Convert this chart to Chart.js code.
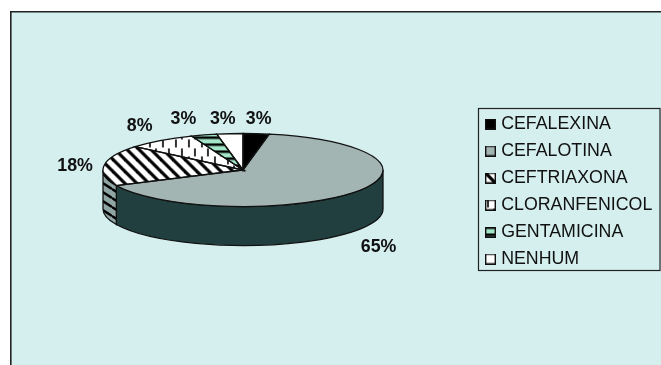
<!DOCTYPE html>
<html>
<head>
<meta charset="utf-8">
<title>Antibióticos</title>
<style>
  html, body { margin: 0; padding: 0; background: #ffffff; }
  canvas { display: block; }
</style>
<script src="https://cdn.jsdelivr.net/npm/chart.js@4"></script>
</head>
<body>
<canvas id="pieChart" width="661" height="365"></canvas>
<script>
"use strict";

// Chart data
const categories = ["CEFALEXINA", "CEFALOTINA", "CEFTRIAXONA", "CLORANFENICOL", "GENTAMICINA", "NENHUM"];
const percentValues = [3, 65, 18, 8, 3, 3];

// Where the pie sits on the page (top ellipse plus extrusion)
const pieX = 243;
const pieY = 170;
const pieRadius = 140;
const pieRadiusY = 36.5;
const pieDepth = 39;
const squash = pieRadiusY / pieRadius;

// Nudge of every percent label away from its slice edge
const labelNudgeX = [2.5, 25, -29, -21, -20.5, -7];
const labelNudgeY = [-14.5, 16, 0.5, -14, -15.5, -14.5];

// Build a repeating tile; paint() draws one tile
function makeTile(width, height, paint) {
  const tile = document.createElement("canvas");
  tile.width = width;
  tile.height = height;
  paint(tile.getContext("2d"), width, height);
  return tile;
}

function diagonalTile() {
  return makeTile(12, 12, (c) => {
    c.fillStyle = "#ffffff";
    c.fillRect(0, 0, 12, 12);
    c.strokeStyle = "#000000";
    c.lineWidth = 3.2;
    [-12, 0, 12].forEach((off) => {
      c.beginPath();
      c.moveTo(off - 2, -2);
      c.lineTo(off + 14, 14);
      c.stroke();
    });
  });
}

function dashTile() {
  return makeTile(13, 17, (c) => {
    c.fillStyle = "#ffffff";
    c.fillRect(0, 0, 13, 17);
    c.fillStyle = "#333333";
    c.fillRect(2, 0, 2, 8);
    c.fillRect(8, 9, 2, 8);
  });
}

function stripeTile(color, dark, height, thick) {
  return makeTile(4, height, (c) => {
    c.fillStyle = color;
    c.fillRect(0, 0, 4, height);
    c.fillStyle = dark;
    c.fillRect(0, 0, 4, thick);
  });
}

// Wall stripes run slightly downhill to the right
function slantedTile() {
  return makeTile(14, 9, (c) => {
    c.fillStyle = "#8fa5a3";
    c.fillRect(0, 0, 14, 9);
    c.strokeStyle = "#000000";
    c.lineWidth = 2.4;
    [-9, 0, 9].forEach((off) => {
      c.beginPath();
      c.moveTo(0, off);
      c.lineTo(14, off + 9);
      c.stroke();
    });
  });
}

const baseCtx = document.getElementById("pieChart").getContext("2d");

// Patterns are painted inside the squashed pie, so they get stretched back
function squashedPattern(tile) {
  const pattern = baseCtx.createPattern(tile, "repeat");
  pattern.setTransform(new DOMMatrix().scale(1, 1 / squash));
  return pattern;
}

const sliceTiles = [null, null, diagonalTile(), dashTile(), stripeTile("#a3e6c8", "#000000", 7, 2.5), null];
const sliceColors = ["#000000", "#a3b5b3", "#ffffff", "#ffffff", "#a3e6c8", "#ffffff"];
const sliceFills = sliceColors.map((color, i) => (sliceTiles[i] ? squashedPattern(sliceTiles[i]) : color));
const sideFills = [
  "#000000",
  "#223f3f",
  baseCtx.createPattern(slantedTile(), "repeat"),
  "#555555",
  "#222222",
  "#555555"
];

// Small legend swatches, same fill as the slices
const swatches = sliceColors.map((color, i) =>
  makeTile(11, 11, (c) => {
    c.fillStyle = sliceTiles[i] ? c.createPattern(sliceTiles[i], "repeat") : color;
    c.fillRect(0, 0, 11, 11);
    c.strokeStyle = "#111111";
    c.lineWidth = 1.4;
    c.strokeRect(0.7, 0.7, 9.6, 9.6);
  })
);

// Panel, frame and legend box behind everything
const panelPlugin = {
  id: "panel",
  beforeDraw(chart) {
    const { ctx, width, height } = chart;
    ctx.save();
    ctx.fillStyle = "#ffffff";
    ctx.fillRect(0, 0, width, height);
    ctx.fillStyle = "#d5efef";
    ctx.fillRect(10, 11, width - 10, height - 11);
    ctx.strokeStyle = "#222222";
    ctx.lineWidth = 1.6;
    ctx.beginPath();
    ctx.moveTo(10.8, height);
    ctx.lineTo(10.8, 11.8);
    ctx.lineTo(width, 11.8);
    ctx.stroke();
    ctx.lineWidth = 1.2;
    ctx.strokeRect(478.5, 108.5, 181.5, 162);
    ctx.restore();
  }
};

// Squash the pie, put the extrusion under it, outline it afterwards
const pie3dPlugin = {
  id: "pie3d",
  afterLayout(chart) {
    // Move the legend into its box
    const legend = chart.legend;
    const shift = 488.75 - 9.2 - legend.left;
    legend.left += shift;
    legend.right += shift;
    legend.top = 105.9;
    legend.bottom = legend.top + legend.height;
  },
  beforeDatasetsDraw(chart) {
    const { ctx } = chart;
    const arcs = chart.getDatasetMeta(0).data;

    // Extruded wall, front half only
    arcs.forEach((arc, i) => {
      const start = Math.max(arc.startAngle, 0);
      const end = Math.min(arc.endAngle, Math.PI);
      if (end <= start) return;
      ctx.save();
      ctx.beginPath();
      ctx.ellipse(pieX, pieY, pieRadius, pieRadiusY, 0, start, end);
      ctx.ellipse(pieX, pieY + pieDepth, pieRadius, pieRadiusY, 0, end, start, true);
      ctx.closePath();
      ctx.fillStyle = sideFills[i];
      ctx.fill();
      ctx.strokeStyle = "#111111";
      ctx.lineWidth = 1.3;
      ctx.stroke();
      ctx.restore();
    });

    const center = arcs[0];
    ctx.save();
    ctx.translate(pieX, pieY);
    ctx.scale(1, squash);
    ctx.translate(-center.x, -center.y);
  },
  afterDatasetsDraw(chart) {
    const { ctx } = chart;
    ctx.restore();
    const arcs = chart.getDatasetMeta(0).data;

    // Slice outlines in plain page pixels so the line stays even
    arcs.forEach((arc) => {
      ctx.save();
      ctx.beginPath();
      ctx.moveTo(pieX, pieY);
      ctx.ellipse(pieX, pieY, pieRadius, pieRadiusY, 0, arc.startAngle, arc.endAngle);
      ctx.closePath();
      ctx.strokeStyle = "#111111";
      ctx.lineWidth = 1.3;
      ctx.stroke();
      ctx.restore();
    });

    // Percent labels
    ctx.save();
    ctx.font = "bold 17.8px 'Liberation Sans', Arial, sans-serif";
    ctx.fillStyle = "#111111";
    ctx.textAlign = "center";
    ctx.textBaseline = "middle";
    arcs.forEach((arc, i) => {
      const mid = (arc.startAngle + arc.endAngle) / 2;
      const rimX = pieX + pieRadius * Math.cos(mid);
      let rimY = pieY + pieRadiusY * Math.sin(mid);
      if (Math.sin(mid) > 0.5) rimY += pieDepth;
      ctx.fillText(percentValues[i] + "%", rimX + labelNudgeX[i], rimY + labelNudgeY[i]);
    });
    ctx.restore();
  }
};

new Chart(baseCtx, {
  type: "pie",
  data: {
    labels: categories,
    datasets: [
      {
        data: percentValues,
        backgroundColor: sliceFills,
        borderWidth: 0,
        radius: pieRadius,
        clip: false
      }
    ]
  },
  options: {
    responsive: false,
    animation: false,
    events: [],
    plugins: {
      tooltip: { enabled: false },
      legend: {
        position: "right",
        align: "start",
        labels: {
          usePointStyle: true,
          boxWidth: 3.5,
          boxHeight: 11,
          padding: 9.2,
          color: "#111111",
          font: { family: "'Liberation Sans', Arial, sans-serif", size: 17.8 },
          generateLabels: () =>
            categories.map((name, i) => ({
              text: name,
              pointStyle: swatches[i],
              fontColor: "#111111",
              fillStyle: sliceColors[i],
              strokeStyle: "#111111",
              lineWidth: 0,
              index: i
            }))
        }
      }
    }
  },
  plugins: [panelPlugin, pie3dPlugin]
});
</script>
</body>
</html>
